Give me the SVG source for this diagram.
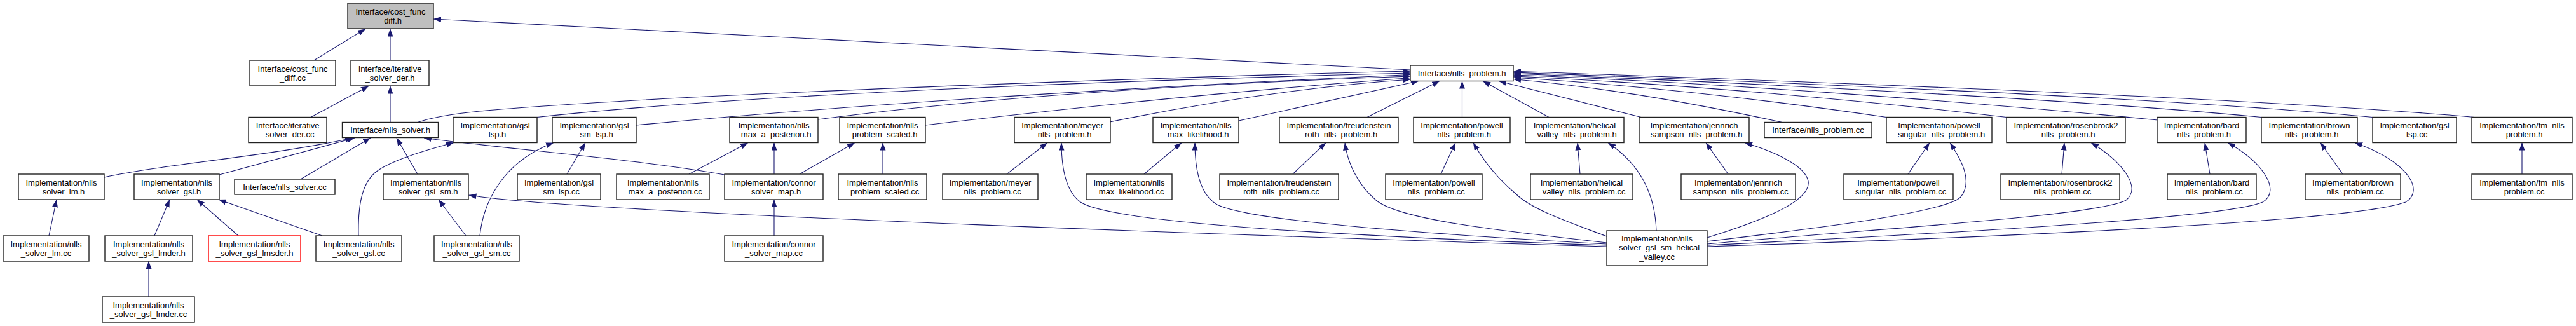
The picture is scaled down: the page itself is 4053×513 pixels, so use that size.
<svg xmlns="http://www.w3.org/2000/svg" width="4053" height="513" viewBox="0 0 4053 513">
<style>
.n rect{fill:#fff;stroke:#222;stroke-width:1.4}
.n.root rect{fill:#bfbfbf}
.n.red rect{stroke:#ff0000}
.n text{font-family:"Liberation Sans",Arial,Helvetica,sans-serif;font-size:13px;fill:#000;text-anchor:middle}
.e path{fill:none;stroke:#191970;stroke-width:1.1;marker-end:url(#arr)}
</style>
<defs>
<marker id="arr" viewBox="0 0 12 9" refX="12" refY="4.5" markerWidth="12" markerHeight="9" orient="auto" markerUnits="userSpaceOnUse"><path d="M0,0 L12,4.5 L0,9 z" fill="#191970"/></marker>
</defs>
<rect width="4053" height="513" fill="#fff"/>
<g id="connectors" class="e">
<path d="M494,95 L575,45.5"/>
<path d="M614,95 L614,45.5"/>
<path d="M2219,110 L682,30"/>
<path d="M489,184.5 L580,135.5"/>
<path d="M614,192.5 L614,135.5"/>
<path d="M657,192.5 C700,178 760,172 1000,158 S1800,122 2219,112"/>
<path d="M845,184.5 Q1250,140 2219,115"/>
<path d="M1001,197 Q1500,150 2219,117.5"/>
<path d="M1287,188 Q1650,140 2219,120"/>
<path d="M1456,197 Q1850,150 2219,122.5"/>
<path d="M1746,192 Q2000,140 2219,125"/>
<path d="M1949,190 L2232,127.5"/>
<path d="M2151,184.5 L2265,127.5"/>
<path d="M2300.5,184.5 L2300.5,127.5"/>
<path d="M2437,184.5 L2333,127.5"/>
<path d="M2582,184.5 L2358,127.5"/>
<path d="M2804,192.5 C2700,170 2550,140 2381,124.5"/>
<path d="M2968,184.5 C2800,160 2600,135 2381,122"/>
<path d="M3157,184.5 C2950,160 2650,132 2381,120"/>
<path d="M3395,189 C3100,160 2700,130 2381,118"/>
<path d="M3558,184.5 C3250,155 2700,128 2381,116"/>
<path d="M3733,184.5 C3400,152 2700,126 2381,114"/>
<path d="M3893,184.5 C3500,150 2700,124 2381,112"/>
<path d="M164,279 C260,258 430,245 555,217"/>
<path d="M345,275 L558,217"/>
<path d="M473,282 L583,217"/>
<path d="M657,274 L624,217"/>
<path d="M1140,275 C1000,250 800,235 667,217"/>
<path d="M564,371 C563,320 570,285 595,268 S670,236 714,224.5"/>
<path d="M77,371 L89,314"/>
<path d="M243,371 L267,314"/>
<path d="M375,371 L310,314"/>
<path d="M507,371 L344,314"/>
<path d="M234,467 L234,411"/>
<path d="M733,371 L690,314"/>
<path d="M755,371 C760,320 790,255 871,224.5"/>
<path d="M892,274 L921,224.5"/>
<path d="M1084,274 L1177,224.5"/>
<path d="M1218,274 L1218,224.5"/>
<path d="M1258,274 L1345,224.5"/>
<path d="M1218,371 L1218,314"/>
<path d="M1389,274 L1389,224.5"/>
<path d="M1584,274 L1648,224.5"/>
<path d="M1800,274 L1859,224.5"/>
<path d="M2034,274 L2086,224.5"/>
<path d="M2267,274 L2290,224.5"/>
<path d="M2486,274 L2482,224.5"/>
<path d="M2719,274 L2684,224.5"/>
<path d="M3002,274 L3036,224.5"/>
<path d="M3244,274 L3248,224.5"/>
<path d="M3477,274 L3469,224.5"/>
<path d="M3686,274 L3651,224.5"/>
<path d="M3968,274 L3968,224.5"/>
<path d="M2528,388 C2000,372 900,335 737.5,307"/>
<path d="M2528,386 C2000,368 1740,345 1700,318 C1675,300 1670,260 1670,224.5"/>
<path d="M2528,384 C2200,366 1960,345 1915,322 C1885,305 1880,260 1880,224.5"/>
<path d="M2528,382 C2350,362 2200,345 2165,315 C2135,290 2120,255 2116,224.5"/>
<path d="M2528,372 C2470,350 2410,330 2385,305 C2355,280 2335,255 2318,224.5"/>
<path d="M2606,363 C2604,310 2585,262 2530,224.5"/>
<path d="M2686,374 C2780,345 2850,315 2845,285 C2840,260 2790,238 2745,224.5"/>
<path d="M2686,380 C2850,360 3060,335 3085,310 C3105,285 3085,250 3068,224.5"/>
<path d="M2686,384 C2950,360 3300,340 3345,315 C3370,295 3340,255 3290,224.5"/>
<path d="M2686,386 C3000,370 3500,345 3560,318 C3590,300 3560,255 3505,224.5"/>
<path d="M2686,388 C3100,375 3700,350 3785,318 C3815,300 3790,255 3705,224.5"/>
</g>
<g id="n_cost_func_diff_h" class="n root"><rect x="547" y="5" width="135" height="40"/><text><tspan x="614.5" y="22.5">Interface/cost_func</tspan><tspan x="614.5" y="36.5">_diff.h</tspan></text></g>
<g id="n_cost_func_diff_cc" class="n"><rect x="393" y="95" width="135" height="40"/><text><tspan x="460.5" y="112.5">Interface/cost_func</tspan><tspan x="460.5" y="126.5">_diff.cc</tspan></text></g>
<g id="n_iterative_solver_der_h" class="n"><rect x="552" y="95" width="123" height="40"/><text><tspan x="613.5" y="112.5">Interface/iterative</tspan><tspan x="613.5" y="126.5">_solver_der.h</tspan></text></g>
<g id="n_nlls_problem_h" class="n"><rect x="2219" y="103" width="162" height="24.5"/><text x="2300" y="119.5">Interface/nlls_problem.h</text></g>
<g id="n_iterative_solver_der_cc" class="n"><rect x="391" y="184.5" width="123" height="40"/><text><tspan x="452.5" y="202">Interface/iterative</tspan><tspan x="452.5" y="216">_solver_der.cc</tspan></text></g>
<g id="n_nlls_solver_h" class="n"><rect x="538.5" y="192.5" width="151" height="24"/><text x="614" y="209">Interface/nlls_solver.h</text></g>
<g id="n_gsl_lsp_h" class="n"><rect x="713" y="184.5" width="132" height="40"/><text><tspan x="779" y="202">Implementation/gsl</tspan><tspan x="779" y="216">_lsp.h</tspan></text></g>
<g id="n_gsl_sm_lsp_h" class="n"><rect x="869" y="184.5" width="132" height="40"/><text><tspan x="935" y="202">Implementation/gsl</tspan><tspan x="935" y="216">_sm_lsp.h</tspan></text></g>
<g id="n_nlls_max_a_posteriori_h" class="n"><rect x="1148" y="184.5" width="139" height="40"/><text><tspan x="1217.5" y="202">Implementation/nlls</tspan><tspan x="1217.5" y="216">_max_a_posteriori.h</tspan></text></g>
<g id="n_nlls_problem_scaled_h" class="n"><rect x="1321" y="184.5" width="135" height="40"/><text><tspan x="1388.5" y="202">Implementation/nlls</tspan><tspan x="1388.5" y="216">_problem_scaled.h</tspan></text></g>
<g id="n_meyer_nlls_problem_h" class="n"><rect x="1596" y="184.5" width="151" height="40"/><text><tspan x="1671.5" y="202">Implementation/meyer</tspan><tspan x="1671.5" y="216">_nlls_problem.h</tspan></text></g>
<g id="n_nlls_max_likelihood_h" class="n"><rect x="1814" y="184.5" width="135" height="40"/><text><tspan x="1881.5" y="202">Implementation/nlls</tspan><tspan x="1881.5" y="216">_max_likelihood.h</tspan></text></g>
<g id="n_freudenstein_roth_nlls_problem_h" class="n"><rect x="2013" y="184.5" width="187" height="40"/><text><tspan x="2106.5" y="202">Implementation/freudenstein</tspan><tspan x="2106.5" y="216">_roth_nlls_problem.h</tspan></text></g>
<g id="n_powell_nlls_problem_h" class="n"><rect x="2224" y="184.5" width="152" height="40"/><text><tspan x="2300" y="202">Implementation/powell</tspan><tspan x="2300" y="216">_nlls_problem.h</tspan></text></g>
<g id="n_helical_valley_nlls_problem_h" class="n"><rect x="2400" y="184.5" width="155" height="40"/><text><tspan x="2477.5" y="202">Implementation/helical</tspan><tspan x="2477.5" y="216">_valley_nlls_problem.h</tspan></text></g>
<g id="n_jennrich_sampson_nlls_problem_h" class="n"><rect x="2579" y="184.5" width="173" height="40"/><text><tspan x="2665.5" y="202">Implementation/jennrich</tspan><tspan x="2665.5" y="216">_sampson_nlls_problem.h</tspan></text></g>
<g id="n_nlls_problem_cc" class="n"><rect x="2776" y="192.5" width="169" height="24"/><text x="2860.5" y="209">Interface/nlls_problem.cc</text></g>
<g id="n_powell_singular_nlls_problem_h" class="n"><rect x="2968" y="184.5" width="166" height="40"/><text><tspan x="3051" y="202">Implementation/powell</tspan><tspan x="3051" y="216">_singular_nlls_problem.h</tspan></text></g>
<g id="n_rosenbrock2_nlls_problem_h" class="n"><rect x="3157" y="184.5" width="187" height="40"/><text><tspan x="3250.5" y="202">Implementation/rosenbrock2</tspan><tspan x="3250.5" y="216">_nlls_problem.h</tspan></text></g>
<g id="n_bard_nlls_problem_h" class="n"><rect x="3394" y="184.5" width="140" height="40"/><text><tspan x="3464" y="202">Implementation/bard</tspan><tspan x="3464" y="216">_nlls_problem.h</tspan></text></g>
<g id="n_brown_nlls_problem_h" class="n"><rect x="3558" y="184.5" width="151" height="40"/><text><tspan x="3633.5" y="202">Implementation/brown</tspan><tspan x="3633.5" y="216">_nlls_problem.h</tspan></text></g>
<g id="n_gsl_lsp_cc" class="n"><rect x="3733" y="184.5" width="132" height="40"/><text><tspan x="3799" y="202">Implementation/gsl</tspan><tspan x="3799" y="216">_lsp.cc</tspan></text></g>
<g id="n_fm_nlls_problem_h" class="n"><rect x="3889" y="184.5" width="158" height="40"/><text><tspan x="3968" y="202">Implementation/fm_nlls</tspan><tspan x="3968" y="216">_problem.h</tspan></text></g>
<g id="n_nlls_solver_lm_h" class="n"><rect x="29" y="274" width="135" height="40"/><text><tspan x="96.5" y="291.5">Implementation/nlls</tspan><tspan x="96.5" y="305.5">_solver_lm.h</tspan></text></g>
<g id="n_nlls_solver_gsl_h" class="n"><rect x="211" y="274" width="134" height="40"/><text><tspan x="278" y="291.5">Implementation/nlls</tspan><tspan x="278" y="305.5">_solver_gsl.h</tspan></text></g>
<g id="n_nlls_solver_cc" class="n"><rect x="369" y="282" width="158" height="24"/><text x="448" y="298.5">Interface/nlls_solver.cc</text></g>
<g id="n_nlls_solver_gsl_sm_h" class="n"><rect x="603" y="274" width="134" height="40"/><text><tspan x="670" y="291.5">Implementation/nlls</tspan><tspan x="670" y="305.5">_solver_gsl_sm.h</tspan></text></g>
<g id="n_gsl_sm_lsp_cc" class="n"><rect x="814" y="274" width="131" height="40"/><text><tspan x="879.5" y="291.5">Implementation/gsl</tspan><tspan x="879.5" y="305.5">_sm_lsp.cc</tspan></text></g>
<g id="n_nlls_max_a_posteriori_cc" class="n"><rect x="970" y="274" width="146" height="40"/><text><tspan x="1043" y="291.5">Implementation/nlls</tspan><tspan x="1043" y="305.5">_max_a_posteriori.cc</tspan></text></g>
<g id="n_connor_solver_map_h" class="n"><rect x="1140" y="274" width="155" height="40"/><text><tspan x="1217.5" y="291.5">Implementation/connor</tspan><tspan x="1217.5" y="305.5">_solver_map.h</tspan></text></g>
<g id="n_nlls_problem_scaled_cc" class="n"><rect x="1319" y="274" width="139" height="40"/><text><tspan x="1388.5" y="291.5">Implementation/nlls</tspan><tspan x="1388.5" y="305.5">_problem_scaled.cc</tspan></text></g>
<g id="n_meyer_nlls_problem_cc" class="n"><rect x="1483" y="274" width="150" height="40"/><text><tspan x="1558" y="291.5">Implementation/meyer</tspan><tspan x="1558" y="305.5">_nlls_problem.cc</tspan></text></g>
<g id="n_nlls_max_likelihood_cc" class="n"><rect x="1709" y="274" width="135" height="40"/><text><tspan x="1776.5" y="291.5">Implementation/nlls</tspan><tspan x="1776.5" y="305.5">_max_likelihood.cc</tspan></text></g>
<g id="n_freudenstein_roth_nlls_problem_cc" class="n"><rect x="1919" y="274" width="187" height="40"/><text><tspan x="2012.5" y="291.5">Implementation/freudenstein</tspan><tspan x="2012.5" y="305.5">_roth_nlls_problem.cc</tspan></text></g>
<g id="n_powell_nlls_problem_cc" class="n"><rect x="2180" y="274" width="152" height="40"/><text><tspan x="2256" y="291.5">Implementation/powell</tspan><tspan x="2256" y="305.5">_nlls_problem.cc</tspan></text></g>
<g id="n_helical_valley_nlls_problem_cc" class="n"><rect x="2408" y="274" width="161" height="40"/><text><tspan x="2488.5" y="291.5">Implementation/helical</tspan><tspan x="2488.5" y="305.5">_valley_nlls_problem.cc</tspan></text></g>
<g id="n_jennrich_sampson_nlls_problem_cc" class="n"><rect x="2645" y="274" width="180" height="40"/><text><tspan x="2735" y="291.5">Implementation/jennrich</tspan><tspan x="2735" y="305.5">_sampson_nlls_problem.cc</tspan></text></g>
<g id="n_powell_singular_nlls_problem_cc" class="n"><rect x="2901" y="274" width="172" height="40"/><text><tspan x="2987" y="291.5">Implementation/powell</tspan><tspan x="2987" y="305.5">_singular_nlls_problem.cc</tspan></text></g>
<g id="n_rosenbrock2_nlls_problem_cc" class="n"><rect x="3148" y="274" width="187" height="40"/><text><tspan x="3241.5" y="291.5">Implementation/rosenbrock2</tspan><tspan x="3241.5" y="305.5">_nlls_problem.cc</tspan></text></g>
<g id="n_bard_nlls_problem_cc" class="n"><rect x="3410" y="274" width="140" height="40"/><text><tspan x="3480" y="291.5">Implementation/bard</tspan><tspan x="3480" y="305.5">_nlls_problem.cc</tspan></text></g>
<g id="n_brown_nlls_problem_cc" class="n"><rect x="3627" y="274" width="150" height="40"/><text><tspan x="3702" y="291.5">Implementation/brown</tspan><tspan x="3702" y="305.5">_nlls_problem.cc</tspan></text></g>
<g id="n_fm_nlls_problem_cc" class="n"><rect x="3889" y="274" width="158" height="40"/><text><tspan x="3968" y="291.5">Implementation/fm_nlls</tspan><tspan x="3968" y="305.5">_problem.cc</tspan></text></g>
<g id="n_nlls_solver_lm_cc" class="n"><rect x="5" y="371" width="135" height="40"/><text><tspan x="72.5" y="388.5">Implementation/nlls</tspan><tspan x="72.5" y="402.5">_solver_lm.cc</tspan></text></g>
<g id="n_nlls_solver_gsl_lmder_h" class="n"><rect x="165" y="371" width="138" height="40"/><text><tspan x="234" y="388.5">Implementation/nlls</tspan><tspan x="234" y="402.5">_solver_gsl_lmder.h</tspan></text></g>
<g id="n_nlls_solver_gsl_lmsder_h" class="n red"><rect x="328" y="371" width="145" height="40"/><text><tspan x="400.5" y="388.5">Implementation/nlls</tspan><tspan x="400.5" y="402.5">_solver_gsl_lmsder.h</tspan></text></g>
<g id="n_nlls_solver_gsl_cc" class="n"><rect x="497" y="371" width="135" height="40"/><text><tspan x="564.5" y="388.5">Implementation/nlls</tspan><tspan x="564.5" y="402.5">_solver_gsl.cc</tspan></text></g>
<g id="n_nlls_solver_gsl_sm_cc" class="n"><rect x="683" y="371" width="134" height="40"/><text><tspan x="750" y="388.5">Implementation/nlls</tspan><tspan x="750" y="402.5">_solver_gsl_sm.cc</tspan></text></g>
<g id="n_connor_solver_map_cc" class="n"><rect x="1140" y="371" width="155" height="40"/><text><tspan x="1217.5" y="388.5">Implementation/connor</tspan><tspan x="1217.5" y="402.5">_solver_map.cc</tspan></text></g>
<g id="n_nlls_solver_gsl_sm_helical_valley_cc" class="n"><rect x="2528" y="363" width="158" height="55"/><text><tspan x="2607" y="379.5">Implementation/nlls</tspan><tspan x="2607" y="394">_solver_gsl_sm_helical</tspan><tspan x="2607" y="408.5">_valley.cc</tspan></text></g>
<g id="n_nlls_solver_gsl_lmder_cc" class="n"><rect x="161" y="467" width="145" height="40"/><text><tspan x="233.5" y="484.5">Implementation/nlls</tspan><tspan x="233.5" y="498.5">_solver_gsl_lmder.cc</tspan></text></g>
</svg>
